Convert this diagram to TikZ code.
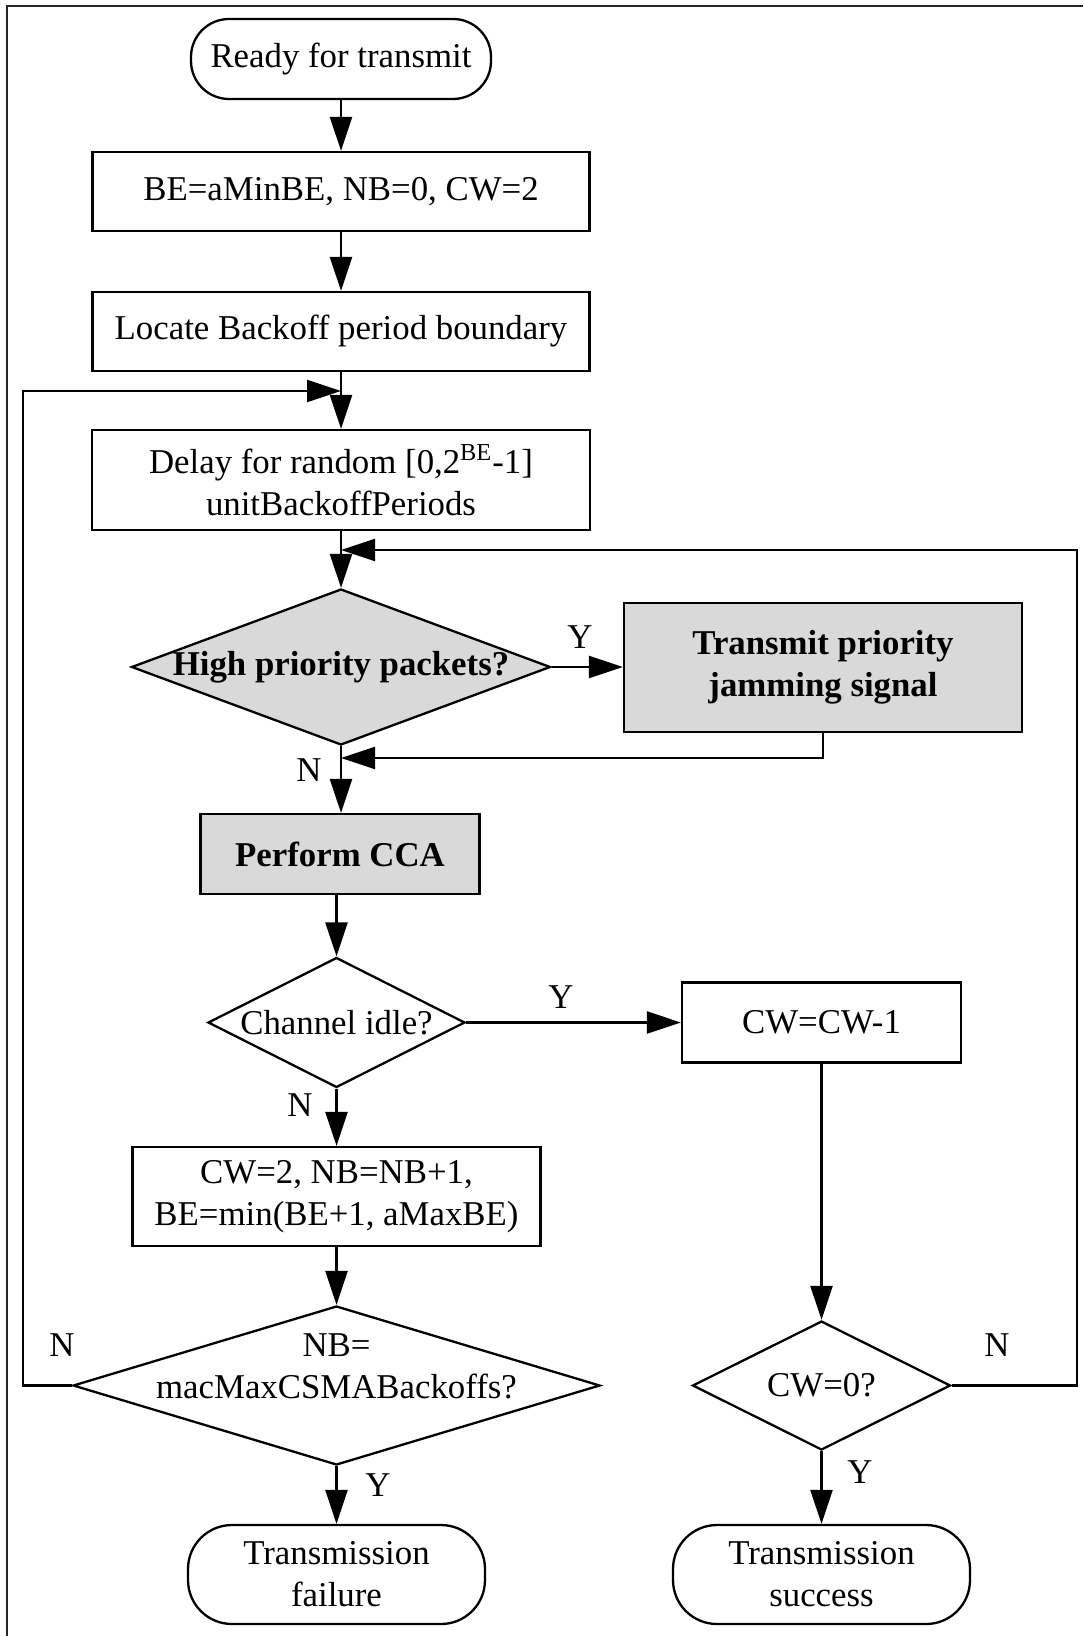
\documentclass[tikz,border=0pt]{standalone}
\usepackage{fontspec}
\setmainfont{Liberation Serif}
\usetikzlibrary{shapes.geometric,arrows.meta,calc}
\definecolor{grayfill}{RGB}{217,217,217}
\begin{document}
\begin{tikzpicture}[x=0.5pt,y=-0.5pt,
  every node/.style={font=\fontsize{17.4pt}{21pt}\selectfont},
  line/.style={line width=1.15pt, black},
  arr/.style={line, -{Triangle[length=17pt,width=11pt]}},
  box/.style={draw, line width=1.15pt, rectangle, inner sep=0pt, align=center},
  gbox/.style={box, fill=grayfill, font=\fontsize{17.4pt}{21pt}\selectfont\bfseries},
  term/.style={box, rounded corners=#1},
  term/.default=20pt,
  dia/.style={draw, line width=1.15pt, diamond, inner sep=0pt},
  lbl/.style={inner sep=0pt, align=center}
]
\useasboundingbox (0,0) rectangle (1083,1636);
% frame
\draw[line width=1pt, black!85] (7,1636) -- (7,6) -- (1083,6);

% nodes
\node[term=19pt, minimum width=150pt, minimum height=40pt] (start) at (341,59) {Ready for transmit};
\node[box, minimum width=248.5pt, minimum height=39.5pt] (b1) at (341,191.5) {BE=aMinBE, NB=0, CW=2};
\node[box, minimum width=248.5pt, minimum height=39.5pt] (b2) at (341,331.5) {Locate Backoff period boundary};
\node[box, minimum width=249pt, minimum height=50pt] (b3) at (341,480) {Delay for random [0,2\textsuperscript{BE}-1]\\unitBackoffPeriods};
\node[dia, fill=grayfill, minimum width=209.5pt, minimum height=78pt] (d1) at (341,667) {};
\node[lbl, font=\fontsize{17.4pt}{21pt}\selectfont\bfseries] (d1t) at (d1) {High priority packets?};
\node[gbox, minimum width=199pt, minimum height=64.5pt] (jam) at (823,667.5) {Transmit priority\\jamming signal};
\node[gbox, minimum width=139.5pt, minimum height=40pt] (cca) at (340,854) {Perform CCA};
\node[dia, minimum width=128.5pt, minimum height=65pt] (d2) at (336.5,1022.5) {};
\node[lbl] (d2t) at (d2) {Channel idle?};
\node[box, minimum width=139.5pt, minimum height=40pt] (cw1) at (821.5,1022.5) {CW=CW-1};
\node[box, minimum width=204pt, minimum height=49.5pt] (b4) at (336.5,1196.5) {CW=2, NB=NB+1,\\BE=min(BE+1, aMaxBE)};
\node[dia, minimum width=263.5pt, minimum height=79.5pt] (d3) at (336.5,1385.5) {};
\node[lbl] (d3t) at (336.5,1366) {NB=\\macMaxCSMABackoffs?};
\node[dia, minimum width=129pt, minimum height=64.5pt] (d4) at (821.5,1385.5) {};
\node[lbl] (d4t) at (d4) {CW=0?};
\node[term=22pt, minimum width=148.5pt, minimum height=49.5pt] (fail) at (336.5,1574.5) {Transmission\\failure};
\node[term=22pt, minimum width=148.5pt, minimum height=49.5pt] (succ) at (821.5,1574.5) {Transmission\\success};

% junction coordinates
\coordinate (jL) at (341,391);
\coordinate (jR) at (341,550);
\coordinate (jJ) at (341,758);
\coordinate (lc) at (23,1385.5);
\coordinate (rc) at (1077,1385.5);

% connectors
\draw[arr] (start) -- (b1);
\draw[arr] (b1) -- (b2);
\draw[arr] (b2) -- (b3);
\draw[arr] (b3) -- (d1);
\draw[arr] (d1.east) -- (d1.east -| jam.west);
\draw[arr] (jam.south) |- (jJ);
\draw[arr] (d1.south) -- (d1.south |- cca.north);
\draw[arr] (cca.south -| d2.north) -- (d2.north);
\draw[arr] (d2.east) -- (d2.east -| cw1.west);
\draw[arr] (d2) -- (b4);
\draw[arr] (b4) -- (d3);
\draw[arr] (d3.west) -- (lc) |- (jL);
\draw[arr] (d3) -- (fail);
\draw[arr] (cw1) -- (d4);
\draw[arr] (d4.east) -- (rc) |- (jR);
\draw[arr] (d4) -- (succ);

% labels
\node[lbl] (y1) at (580,637) {Y};
\node[lbl] (n1) at (309,770) {N};
\node[lbl] (y2) at (561,997) {Y};
\node[lbl] (n2) at (300,1105) {N};
\node[lbl] (n3) at (62,1345) {N};
\node[lbl] (y3) at (378,1485) {Y};
\node[lbl] (n4) at (997,1345) {N};
\node[lbl] (y4) at (860,1472) {Y};
\end{tikzpicture}
\end{document}
